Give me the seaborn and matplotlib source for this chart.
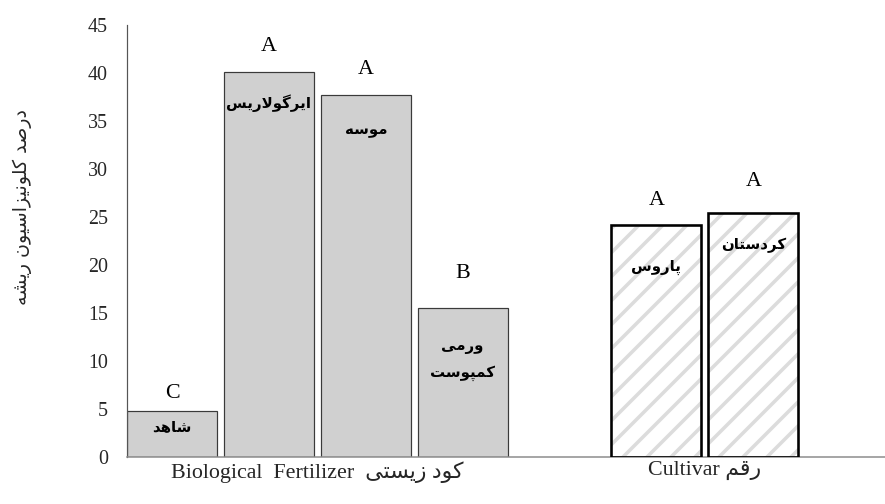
import matplotlib
matplotlib.use("Agg")
import matplotlib.pyplot as plt
from matplotlib.patches import Rectangle
import pandas as pd
import seaborn as sns

# ---------------- data ----------------
fertilizers = ["شاهد", "ایرگولاریس", "موسه", "ورمی کمپوست"]
fert_values = [4.8, 40.1, 37.7, 15.5]
fert_letters = ["C", "A", "A", "B"]

cultivars = ["پاروس", "کردستان"]
cult_values = [24.2, 25.4]
cult_letters = ["A", "A"]

group_labels = ["Biological  Fertilizer", "Cultivar"]
group_labels_fa = ["کود زیستی", "رقم"]
y_label = "درصد کلونیزاسیون ریشه"
y_ticks = [0, 5, 10, 15, 20, 25, 30, 35, 40, 45]

# ---------------- simple Persian shaping (presentation forms + RTL) ----------------
FORMS = {
    'ا': ('\uFE8D', '\uFE8E', None, None),
    'ب': ('\uFE8F', '\uFE90', '\uFE91', '\uFE92'),
    'پ': ('\uFB56', '\uFB57', '\uFB58', '\uFB59'),
    'ت': ('\uFE95', '\uFE96', '\uFE97', '\uFE98'),
    'د': ('\uFEA9', '\uFEAA', None, None),
    'ر': ('\uFEAD', '\uFEAE', None, None),
    'ز': ('\uFEAF', '\uFEB0', None, None),
    'س': ('\uFEB1', '\uFEB2', '\uFEB3', '\uFEB4'),
    'ش': ('\uFEB5', '\uFEB6', '\uFEB7', '\uFEB8'),
    'ص': ('\uFEB9', '\uFEBA', '\uFEBB', '\uFEBC'),
    'ق': ('\uFED5', '\uFED6', '\uFED7', '\uFED8'),
    'ک': ('\uFB8E', '\uFB8F', '\uFB90', '\uFB91'),
    'گ': ('\uFB92', '\uFB93', '\uFB94', '\uFB95'),
    'ل': ('\uFEDD', '\uFEDE', '\uFEDF', '\uFEE0'),
    'م': ('\uFEE1', '\uFEE2', '\uFEE3', '\uFEE4'),
    'ن': ('\uFEE5', '\uFEE6', '\uFEE7', '\uFEE8'),
    'ه': ('\uFEE9', '\uFEEA', '\uFEEB', '\uFEEC'),
    'و': ('\uFEED', '\uFEEE', None, None),
    'ی': ('\uFBFC', '\uFBFD', '\uFBFE', '\uFBFF'),
}


def _dual(c):
    return c in FORMS and FORMS[c][2] is not None


def fa(text):
    """Shape a Persian line and return it in visual (left-to-right) order."""
    out = []
    ch = list(text)
    n = len(ch)
    i = 0
    while i < n:
        c = ch[i]
        if c not in FORMS:
            out.append(c)
            i += 1
            continue
        prev = ch[i - 1] if i > 0 else None
        jp = prev is not None and _dual(prev)
        if c == 'ل' and i + 1 < n and ch[i + 1] == 'ا':
            out.append('\uFEFC' if jp else '\uFEFB')
            i += 2
            continue
        nxt = ch[i + 1] if i + 1 < n else None
        jn = _dual(c) and nxt in FORMS
        iso, fin, ini, med = FORMS[c]
        out.append(med if (jp and jn) else fin if jp else ini if jn else iso)
        i += 1
    return ''.join(reversed(out))


def fa_lines(text):
    return "\n".join(fa(w) for w in text.split(" ")) if text == "ورمی کمپوست" else fa(text)


# ---------------- figure ----------------
DPI = 72
sns.set_theme(style="white")
plt.rcParams['font.family'] = ['Liberation Serif', 'DejaVu Sans']
plt.rcParams['hatch.linewidth'] = 3.5

fig = plt.figure(figsize=(885 / DPI, 504 / DPI), dpi=DPI)
ax = fig.add_axes([127 / 885, 47 / 504, 1 - 127 / 885, 432 / 504])

gap = "  "
order = fertilizers + [gap] + cultivars
df = pd.DataFrame({
    "treatment": fertilizers + cultivars,
    "value": fert_values + cult_values,
    "group": ["fert"] * len(fertilizers) + ["cult"] * len(cultivars),
})

sns.barplot(data=df, x="treatment", y="value", order=order, width=0.93,
            color="#d0d0d0", edgecolor="#3a3a3a", linewidth=1.2,
            errorbar=None, ax=ax)

patches = sorted([p for p in ax.patches if p.get_height() > 0], key=lambda p: p.get_x())
letters = fert_letters + cult_letters
names = fertilizers + cultivars

# layout offsets (pixels/points) for annotations
letter_gap = [8, 16, 16, 25, 15, 22]
label_drop = [16, 31, 35, 52, 43, 32]

for k, p in enumerate(patches):
    cx = p.get_x() + p.get_width() / 2
    top = p.get_height()
    if k >= len(fertilizers):
        p.set_facecolor("white")
        p.set_edgecolor("#dcdcdc")
        p.set_hatch("/")
        p.set_linewidth(0)
        ax.add_patch(Rectangle(p.get_xy(), p.get_width(), p.get_height(),
                               fill=False, edgecolor="black", linewidth=2.6, zorder=3))
    ax.annotate(letters[k], (cx, top), xytext=(0, letter_gap[k]),
                textcoords="offset points", ha="center", va="bottom",
                fontsize=22, family="Liberation Serif", color="black")
    ax.annotate(fa_lines(names[k]), (cx, top), xytext=(0, -label_drop[k]),
                textcoords="offset points", ha="center", va="center",
                fontsize=15, fontweight="bold", family="DejaVu Sans",
                linespacing=1.9, color="black", zorder=4)

# axes formatting
ax.set_ylim(0, 45)
ax.set_xlim(-0.465, 7.36)
ax.set_yticks(y_ticks)
ax.set_yticklabels([str(t) for t in y_ticks], fontsize=20, family="Liberation Serif")
ax.tick_params(axis="y", length=0, pad=19)
ax.set_xticks([1.5, 5.5])
ax.set_xticklabels([f"{group_labels[0]}  {fa(group_labels_fa[0])}",
                    f"{group_labels[1]} {fa(group_labels_fa[1])}"],
                   fontsize=22, family=["Liberation Serif", "DejaVu Sans"])
ax.tick_params(axis="x", length=0, pad=4)
ax.set_xlabel("")
ax.set_ylabel(fa(y_label), fontsize=19, family="DejaVu Sans")
ax.yaxis.set_label_coords(-0.125, 0.579)

for s in ["top", "right"]:
    ax.spines[s].set_visible(False)
ax.spines["left"].set_color("#555555")
ax.spines["left"].set_linewidth(1.2)
ax.spines["bottom"].set_color("#8a8a8a")
ax.spines["bottom"].set_linewidth(1.5)

fig.savefig("out.png", dpi=DPI)
